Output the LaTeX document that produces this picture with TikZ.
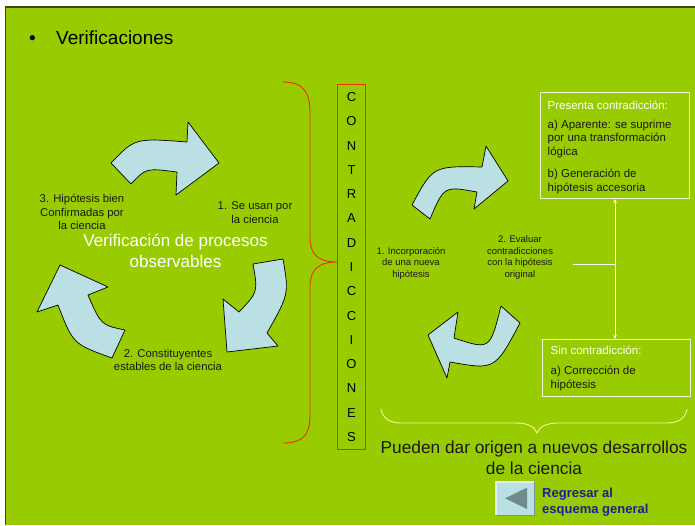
\documentclass[tikz,border=0pt]{standalone}
\usepackage{fontspec}
\setmainfont{Liberation Sans}
\usetikzlibrary{arrows.meta}
\definecolor{bggreen}{RGB}{153,204,0}
\definecolor{arrowblue}{RGB}{186,224,228}
\definecolor{redline}{RGB}{235,45,20}
\definecolor{boxline}{RGB}{240,245,210}
\definecolor{bracey}{RGB}{245,245,150}
\definecolor{txt}{RGB}{25,25,25}
\definecolor{linkblue}{RGB}{30,30,150}
\definecolor{btngray}{RGB}{110,140,140}
\definecolor{framec}{RGB}{60,70,20}
\begin{document}
\begin{tikzpicture}[x=1pt,y=-1pt,
  cyc/.style={fill=arrowblue, draw=black, line width=0.7pt, line join=round},
  lbl/.style={inner sep=0pt, align=center, text=txt, font=\fontsize{11.3}{13.8}\selectfont},
  small/.style={inner sep=0pt, align=center, text=txt, font=\fontsize{9.5}{11.3}\selectfont},
  boxtxt/.style={inner sep=0pt, anchor=west, align=left, text=txt, font=\fontsize{11.5}{13.9}\selectfont},
  lbox/.style={draw=boxline, line width=1pt, inner sep=0pt, anchor=north west},
  conn/.style={draw=white, line width=0.8pt},
  tip/.style={-{Stealth[length=4pt,width=3.5pt]}}
]
\useasboundingbox (0,0) rectangle (695,525);
\fill[white] (0,0) rectangle (695,525);
\fill[bggreen] (6,7) rectangle (695,525);
\draw[framec, line width=1.5pt] (5.5,525) -- (5.5,7) -- (695,7);

% title
\node[anchor=base, inner sep=0pt, font=\fontsize{19}{23}\selectfont] (bullet) at (32.5,44.3) {•};
\node[anchor=base west, inner sep=0pt, font=\fontsize{19}{23}\selectfont] (title) at (56,44.3) {Verificaciones};

% left cycle arrows
\path[cyc] (111,163) .. controls (135,138) .. (187,142) -- (188,122) -- (219,163) -- (176,195) -- (177,172) .. controls (146,168) .. (131,184) -- cycle;
\path[cyc] (283,259) .. controls (289,294) .. (267,333) -- (278,346) -- (227,352) -- (223,299) -- (239,312) .. controls (258,292) .. (253,264) -- cycle;
\path[cyc] (112,358) .. controls (73,344) .. (58,305) -- (37,312) -- (60,265) -- (108,287) -- (88,295) .. controls (101,325) .. (125,330) -- cycle;

% right cycle arrows
\path[cyc] (412,205) .. controls (433,166) .. (482,167) -- (486,146) -- (508,181) -- (474,209) -- (477,192) .. controls (444,186) .. (430,219) -- cycle;
\path[cyc] (520,323) .. controls (495,370) .. (450,362) -- (447,378) -- (428,335) -- (458,312) -- (454,338) .. controls (490,350) .. (501,306) -- cycle;

% left texts
\node[lbl] (t3) at (82,212) {3. Hipótesis bien\\Confirmadas por\\la ciencia};
\node[lbl] (t1) at (255,212.5) {1. Se usan por\\la ciencia};
\node[lbl, text=white, font=\fontsize{17}{21}\selectfont] (centre) at (175.5,251) {Verificación de procesos\\observables};
\node[lbl] (t2) at (168,360) {2. Constituyentes\\estables de la ciencia};

% contradicciones
\node[draw=redline, line width=1pt, minimum width=28pt, minimum height=365pt, inner sep=0pt, align=center, anchor=north west, font=\fontsize{13}{24.29}\selectfont] (cbox) at (337,84) {C\\O\\N\\T\\R\\A\\D\\I\\C\\C\\I\\O\\N\\E\\S};
\draw[redline, line width=0.9pt] (283,82) .. controls (303,82) and (310,92) .. (310,112) -- (310,238) .. controls (310,254) and (318,262) .. (337,262) .. controls (318,262) and (310,270) .. (310,287) -- (310,415) .. controls (310,435) and (303,443) .. (283,443);

% right texts
\node[small] (r1) at (411,263.3) {1. Incorporación\\de una nueva\\hipótesis};
\node[small, font=\fontsize{9.5}{11.5}\selectfont] (eval) at (520,257.5) {2. Evaluar\\contradicciones\\con la hipótesis\\original};

% boxes
\node[lbox, minimum width=149pt, minimum height=106pt] (pbox) at (540,92) {};
\node[boxtxt, text=white] (ph) at (547.5,105) {Presenta contradicción:};
\node[boxtxt] (pa) at (547.5,139) {a) Aparente: se suprime\\por una transformación\\lógica};
\node[boxtxt] (pb) at (547.5,181.2) {b) Generación de\\hipótesis accesoria};

\node[lbox, minimum width=148pt, minimum height=57pt] (sbox) at (542,339) {};
\node[boxtxt, text=white] (sh) at (550.5,350.7) {Sin contradicción:};
\node[boxtxt] (sa) at (550.5,378.3) {a) Corrección de\\hipótesis};

% connectors
\coordinate (evalend) at (573,264);
\coordinate (junc) at (615,264);
\draw[conn] (evalend) -- (junc);
\draw[conn, tip] (junc) -- (junc |- pbox.south);
\draw[conn, tip] (junc) -- (junc |- sbox.north);

% yellow brace
\draw[bracey, line width=0.9pt] (381,409) .. controls (383,419) and (390,423) .. (402,423) -- (516,423) .. controls (528,423) and (535,427) .. (537,433) .. controls (539,427) and (546,423) .. (558,423) -- (666,423) .. controls (678,423) and (685,419) .. (687,409);
\node[inner sep=0pt, align=center, text=txt, font=\fontsize{17.3}{21}\selectfont] (pueden) at (534,457.8) {Pueden dar origen a nuevos desarrollos\\de la ciencia};

% back button
\node[fill=arrowblue, minimum width=38pt, minimum height=33pt, anchor=north west, inner sep=0pt] (btn) at (496,482) {};
\draw[white!55!arrowblue, line width=1.5pt] (btn.south west) -- (btn.north west) -- (btn.north east);
\draw[arrowblue!65!black, line width=1.5pt] (btn.north east) -- (btn.south east) -- (btn.south west);
\fill[btngray] (505,498.3) -- (527,487.7) -- (527,509) -- cycle;
\node[anchor=west, inner sep=0pt, align=left, text=linkblue, font=\bfseries\fontsize{13}{16}\selectfont] (link) at (542,502.5) {Regresar al\\esquema general};
\end{tikzpicture}
\end{document}
